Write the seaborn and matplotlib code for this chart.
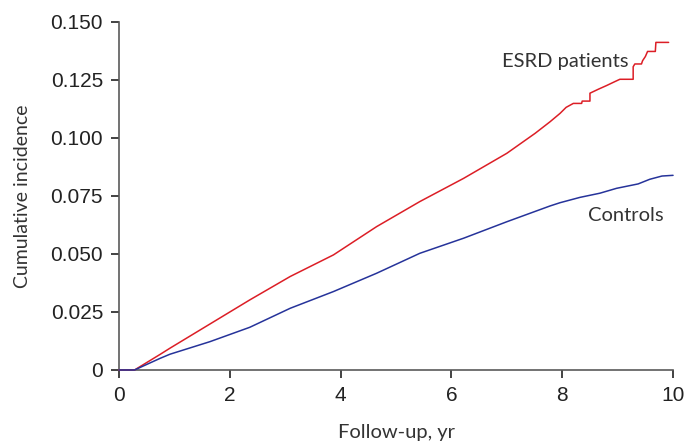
import pandas as pd
import matplotlib.pyplot as plt
import seaborn as sns

# Cumulative incidence curves (step corners kept as repeated x)
esrd_t = [0, 0.28, 0.74, 0.92, 1.64, 2.36, 3.09, 3.87, 4.65, 5.43, 6.22, 7.0, 7.51,
          7.78, 7.96, 8.07, 8.2, 8.35, 8.36, 8.5, 8.5, 8.65, 8.8, 8.95, 9.04, 9.28, 9.28,
          9.31, 9.43, 9.45, 9.5, 9.54, 9.68, 9.69, 9.92]
esrd_y = [0, 0, 0.0067, 0.0094, 0.0198, 0.0302, 0.0403, 0.0496, 0.0618, 0.0726, 0.0826,
          0.0934, 0.102, 0.107, 0.1106, 0.1132, 0.1149, 0.1149, 0.1159, 0.1159, 0.1193,
          0.121, 0.1226, 0.1243, 0.1253, 0.1253, 0.1307, 0.1319, 0.1319, 0.1333, 0.1351,
          0.1373, 0.1373, 0.1412, 0.1412]

ctrl_t = [0, 0.28, 0.74, 0.92, 1.64, 2.36, 3.09, 3.87, 4.65, 5.43, 6.22, 7.0, 7.78,
          7.96, 8.32, 8.68, 8.98, 9.37, 9.58, 9.8, 10.0]
ctrl_y = [0, 0, 0.005, 0.0068, 0.0122, 0.0184, 0.0266, 0.0338, 0.0417, 0.0503, 0.0568,
          0.0639, 0.0707, 0.0721, 0.0744, 0.0762, 0.0783, 0.0802, 0.0822, 0.0836, 0.0839]

y_ticks = [0, 0.025, 0.05, 0.075, 0.1, 0.125, 0.15]
y_tick_labels = ['0', '0.025', '0.050', '0.075', '0.100', '0.125', '0.150']
x_ticks = [0, 2, 4, 6, 8, 10]

red = '#dc1e26'
blue = '#26339a'

df = pd.concat([
    pd.DataFrame({'t': esrd_t, 'ci': esrd_y, 'group': 'ESRD patients'}),
    pd.DataFrame({'t': ctrl_t, 'ci': ctrl_y, 'group': 'Controls'}),
], ignore_index=True)

sns.set_style('ticks')
plt.rcParams['font.family'] = ['Liberation Sans', 'DejaVu Sans']

fig = plt.figure(figsize=(6.84, 4.44), dpi=100)
ax = fig.add_axes([0.174, 0.1667, 0.81, 0.7838])

sns.lineplot(data=df, x='t', y='ci', hue='group', estimator=None, sort=False,
             palette={'ESRD patients': red, 'Controls': blue}, linewidth=1.1,
             legend=False, ax=ax, zorder=5, clip_on=False)

ax.set_xlim(0, 10)
ax.set_ylim(0, 0.15)
ax.set_xticks(x_ticks)
ax.set_yticks(y_ticks)
ax.set_yticklabels(y_tick_labels)
ax.tick_params(labelsize=15, colors='#222222', length=5.5, width=1.2, pad=6)
for s in ['left', 'bottom']:
    ax.spines[s].set_color('#5a5a5a')
    ax.spines[s].set_linewidth(1.2)
sns.despine(ax=ax)

ax.set_xlabel('Follow-up, yr', fontsize=14.5, family='Lato', color='#333333', labelpad=14)
ax.set_ylabel('Cumulative incidence', fontsize=14, family='Lato', color='#333333', labelpad=14)

ax.text(8.05, 0.1328, 'ESRD patients', fontsize=14.5, family='Lato', color='#333333',
        ha='center', va='center')
ax.text(9.15, 0.0668, 'Controls', fontsize=14.5, family='Lato', color='#333333',
        ha='center', va='center')

fig.savefig('out.png', dpi=100)
